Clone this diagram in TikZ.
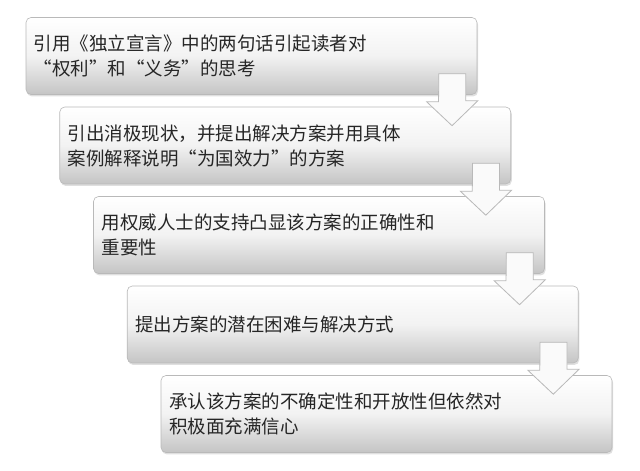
\documentclass[tikz,border=0pt]{standalone}
\usepackage{fontspec}
\setmainfont{Noto Sans CJK SC}
\usetikzlibrary{calc,shadows}

\begin{document}
\begin{tikzpicture}[x = 1pt, y = 1pt,
	every node/.style = {font = \fontsize{18.5pt}{25pt}\selectfont, text = black!85},
	stepbox/.style = {rectangle, rounded corners = 5pt, draw = gray!55, line width = 0.6pt,
		top color = white, bottom color = gray!46, middle color = gray!10,
		minimum width = 451pt, minimum height = 77pt, text width = 435pt, align = left, inner xsep = 8pt,
		drop shadow = {shadow xshift = 1pt, shadow yshift = -2pt, opacity = 0.25}},
	downarrow/.style = {draw = gray!55, line width = 0.8pt, fill = gray!4, line join = miter}]

	\useasboundingbox (0, 0) rectangle (640, 471);

	\node (b1) at (251.50, 415.0) [stepbox] {引用《独立宣言》中的两句话引起读者对\\“权利”和“义务”的思考};
	\node (b2) at (285.25, 325.5) [stepbox] {引出消极现状，并提出解决方案并用具体\\案例解释说明“为国效力”的方案};
	\node (b3) at (319.00, 236.0) [stepbox] {用权威人士的支持凸显该方案的正确性和\\重要性};
	\node (b4) at (352.75, 146.5) [stepbox] {提出方案的潜在困难与解决方式};
	\node (b5) at (386.50,  57.0) [stepbox] {承认该方案的不确定性和开放性但依然对\\积极面充满信心};

	\foreach \from/\to in {b1/b2, b2/b3, b3/b4, b4/b5}
		\draw [downarrow] ($(\from.south east)+(-38.5, 21)$) -- ++(27, 0) -- ++(0, -27) -- ++(12, 0)
			-- ($(\to.north east)+(-59, -19)$) -- ++(-25.5, 24) -- ++(12, 0) -- cycle;

\end{tikzpicture}
\end{document}
